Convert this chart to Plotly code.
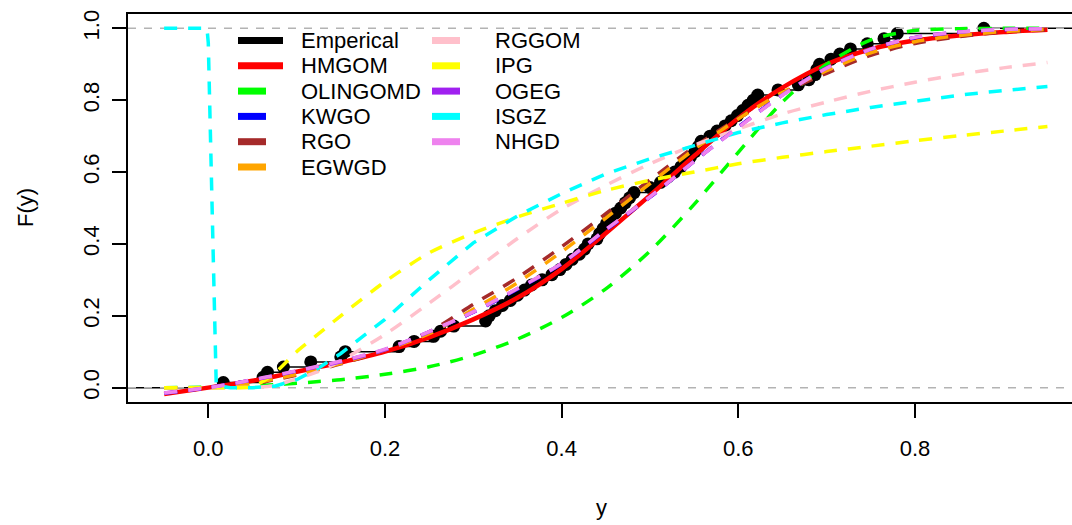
import plotly.graph_objects as go

# ---------------- data ----------------
# observed sample (empirical CDF points)
SAMPLE = [0.017, 0.062, 0.067, 0.085, 0.116, 0.150, 0.155, 0.216, 0.233, 0.255,
          0.263, 0.278, 0.314, 0.318, 0.325, 0.333, 0.342, 0.350, 0.358, 0.366,
          0.378, 0.389, 0.398, 0.405, 0.412, 0.420, 0.426, 0.430, 0.440, 0.443,
          0.447, 0.451, 0.455, 0.461, 0.467, 0.472, 0.477, 0.482, 0.500, 0.512,
          0.520, 0.528, 0.535, 0.540, 0.546, 0.551, 0.555, 0.558, 0.568, 0.576,
          0.585, 0.592, 0.599, 0.605, 0.611, 0.617, 0.622, 0.645, 0.668, 0.680,
          0.687, 0.689, 0.692, 0.705, 0.715, 0.727, 0.746, 0.765, 0.780, 0.878]

X_GRID = [-0.05, 0.0, 0.025, 0.05, 0.075, 0.1, 0.125, 0.15, 0.2, 0.25, 0.3, 0.35,
          0.4, 0.45, 0.5, 0.55, 0.6, 0.65, 0.7, 0.75, 0.8, 0.85, 0.9, 0.95]

HMGOM = [-0.018, 0.0, 0.009, 0.019, 0.031, 0.044, 0.057, 0.07, 0.10, 0.14, 0.19, 0.25,
         0.33, 0.43, 0.535, 0.645, 0.75, 0.835, 0.90, 0.942, 0.966, 0.98, 0.99, 0.996]
OLINGOMD = [0.0, 0.001, 0.003, 0.005, 0.008, 0.012, 0.017, 0.022, 0.037, 0.058, 0.09, 0.135,
            0.195, 0.275, 0.38, 0.51, 0.655, 0.795, 0.9, 0.968, 0.994, 0.999, 1.0, 1.0]
KWGO = [-0.016, 0.0, 0.01, 0.021, 0.033, 0.046, 0.059, 0.073, 0.106, 0.155, 0.21, 0.274,
        0.345, 0.438, 0.53, 0.63, 0.726, 0.815, 0.89, 0.942, 0.974, 0.989, 0.996, 0.999]
RGO = [0.0, 0.0, 0.002, 0.01, 0.022, 0.035, 0.05, 0.066, 0.105, 0.155, 0.232, 0.306,
       0.392, 0.484, 0.578, 0.67, 0.75, 0.82, 0.875, 0.925, 0.958, 0.977, 0.99, 0.996]
EGWGD = [0.0, 0.0, 0.003, 0.012, 0.024, 0.037, 0.052, 0.068, 0.105, 0.15, 0.218, 0.292,
         0.378, 0.472, 0.568, 0.663, 0.748, 0.822, 0.882, 0.932, 0.963, 0.98, 0.991, 0.997]
RGGOM = [0.0, 0.0, 0.0, 0.001, 0.006, 0.025, 0.045, 0.075, 0.148, 0.235, 0.325, 0.415,
         0.497, 0.563, 0.623, 0.675, 0.72, 0.762, 0.795, 0.825, 0.85, 0.872, 0.89, 0.905]
IPG = [0.0, 0.0, 0.0, 0.003, 0.04, 0.1, 0.15, 0.2, 0.295, 0.375, 0.43, 0.475,
       0.513, 0.549, 0.577, 0.60, 0.623, 0.641, 0.657, 0.672, 0.687, 0.701, 0.714, 0.727]
OGEG = [-0.015, 0.0, 0.01, 0.021, 0.033, 0.046, 0.058, 0.072, 0.105, 0.155, 0.21, 0.275,
        0.345, 0.44, 0.53, 0.63, 0.725, 0.815, 0.89, 0.942, 0.975, 0.99, 0.997, 0.999]
NHGD = [-0.015, 0.0, 0.01, 0.022, 0.034, 0.047, 0.06, 0.074, 0.107, 0.156, 0.211, 0.276,
        0.346, 0.44, 0.531, 0.63, 0.724, 0.814, 0.889, 0.942, 0.975, 0.99, 0.997, 0.999]

ISGZ_X = [-0.05, -0.0015, 0.0, 0.003, 0.006, 0.009, 0.025, 0.05, 0.075, 0.1, 0.125, 0.15,
          0.2, 0.25, 0.3, 0.35, 0.4, 0.45, 0.5, 0.55, 0.6, 0.65, 0.7, 0.75, 0.8, 0.85,
          0.9, 0.95]
ISGZ = [1.0, 1.0, 0.96, 0.64, 0.32, 0.006, 0.0, 0.0, 0.004, 0.022, 0.055, 0.095,
        0.19, 0.30, 0.403, 0.478, 0.54, 0.595, 0.637, 0.673, 0.71, 0.737, 0.76, 0.78,
        0.798, 0.814, 0.827, 0.838]

SERIES_NAMES = ["HMGOM", "OLINGOMD", "KWGO", "RGO", "EGWGD", "RGGOM", "IPG", "OGEG",
                "ISGZ", "NHGD"]
SERIES_COLORS = ["#FF0000", "#00FF00", "#0000FF", "#A52A2A", "#FFA500", "#FFC0CB",
                 "#FFFF00", "#A020F0", "#00FFFF", "#EE82EE"]
TICKS = [0.0, 0.2, 0.4, 0.6, 0.8]
TICK_TEXT = ["0.0", "0.2", "0.4", "0.6", "0.8"]
Y_TICKS = [0.0, 0.2, 0.4, 0.6, 0.8, 1.0]
Y_TICK_TEXT = ["0.0", "0.2", "0.4", "0.6", "0.8", "1.0"]

# ---------------- layout constants ----------------
W, H = 1072, 525
ML, MR, MT, MB = 128, 0, 14, 123
X_LO, X_HI = -0.0909, 0.9778
Y_LO, Y_HI = -0.04, 1.04
FONT = "Liberation Sans, Arial, Helvetica, sans-serif"
FS = 22

series_y = {"HMGOM": (X_GRID, HMGOM), "OLINGOMD": (X_GRID, OLINGOMD),
            "KWGO": (X_GRID, KWGO), "RGO": (X_GRID, RGO), "EGWGD": (X_GRID, EGWGD),
            "RGGOM": (X_GRID, RGGOM), "IPG": (X_GRID, IPG), "OGEG": (X_GRID, OGEG),
            "ISGZ": (ISGZ_X, ISGZ), "NHGD": (X_GRID, NHGD)}

fig = go.Figure()

# empirical CDF (step lines + points)
xs = sorted(SAMPLE)
n = len(xs)
F = [(i + 1) / n for i in range(n)]
fig.add_trace(go.Scatter(x=[X_LO] + xs + [X_HI], y=[0] + F + [1], mode="lines",
                         line=dict(color="black", width=1.5, shape="hv"),
                         showlegend=False, hoverinfo="skip"))
fig.add_trace(go.Scatter(x=xs, y=F, mode="markers",
                         marker=dict(color="black", size=13, line=dict(width=0)),
                         showlegend=False, name="Emperical"))
# 0 / 1 reference lines
for h in (0, 1):
    fig.add_trace(go.Scatter(x=[X_LO, X_HI], y=[h, h], mode="lines",
                             line=dict(color="#B3B3B3", width=1.5, dash="8px,8px"),
                             showlegend=False, hoverinfo="skip"))

# fitted CDFs
DASH = "13px,11px"
for name, col in zip(SERIES_NAMES, SERIES_COLORS):
    sx, sy = series_y[name]
    if name == "HMGOM":
        line = dict(color=col, width=4.5, shape="spline", smoothing=0.8)
    elif name == "ISGZ":
        line = dict(color=col, width=3.5, dash=DASH)
    else:
        line = dict(color=col, width=3.5, dash=DASH, shape="spline", smoothing=0.8)
    fig.add_trace(go.Scatter(x=sx, y=sy, mode="lines", line=line, name=name,
                             showlegend=False))

# ---------------- manual legend (R style, two columns) ----------------
pw = W - ML - MR
ph = H - MT - MB


def px2paper(px, py):
    return (px - ML) / pw, (H - MB - py) / ph


legend_names = ["Emperical"] + SERIES_NAMES
legend_colors = ["#000000"] + SERIES_COLORS
shapes = []
annotations = []
for i, (nm, col) in enumerate(zip(legend_names, legend_colors)):
    colidx = 0 if i < 6 else 1
    row = i if i < 6 else i - 6
    x0 = 238 if colidx == 0 else 432
    tx = 299 if colidx == 0 else 493
    yy = 40.5 + 25.3 * row
    solid = nm in ("Emperical", "HMGOM")
    ax0, ay = px2paper(x0, yy)
    ax1, _ = px2paper(x0 + 45, yy)
    shapes.append(dict(type="line", xref="paper", yref="paper", x0=ax0, x1=ax1,
                       y0=ay, y1=ay,
                       line=dict(color=col, width=7,
                                 dash="solid" if solid else "28px,30px")))
    tx_p, _ = px2paper(tx, yy)
    annotations.append(dict(text=nm, xref="paper", yref="paper", x=tx_p, y=ay,
                            xanchor="left", yanchor="middle", showarrow=False,
                            font=dict(family=FONT, size=FS, color="black")))

# axis titles
ax_x, ax_y = px2paper(601, 508)
annotations.append(dict(text="y", xref="paper", yref="paper", x=ax_x, y=ax_y,
                        xanchor="center", yanchor="middle", showarrow=False,
                        font=dict(family=FONT, size=FS, color="black")))
ay_x, ay_y = px2paper(25, 208)
annotations.append(dict(text="F(y)", xref="paper", yref="paper", x=ay_x, y=ay_y,
                        xanchor="center", yanchor="middle", showarrow=False,
                        textangle=-90,
                        font=dict(family=FONT, size=FS, color="black")))

fig.update_layout(
    width=W, height=H,
    margin=dict(l=ML, r=MR, t=MT, b=MB, pad=0),
    paper_bgcolor="white", plot_bgcolor="white",
    font=dict(family=FONT, size=FS, color="black"),
    showlegend=False,
    shapes=shapes, annotations=annotations,
    xaxis=dict(range=[X_LO, X_HI], tickvals=TICKS, ticktext=TICK_TEXT,
               ticks="outside", ticklen=14, tickwidth=1.5, tickcolor="black",
               showline=True, linecolor="black", linewidth=1.5, mirror=True,
               showgrid=False, zeroline=False, ticklabelstandoff=12,
               tickfont=dict(family=FONT, size=FS, color="black")),
    yaxis=dict(range=[Y_LO, Y_HI], tickvals=Y_TICKS, ticktext=Y_TICK_TEXT,
               ticks="outside", ticklen=14, tickwidth=1.5, tickcolor="black",
               showline=True, linecolor="black", linewidth=1.5, mirror=False,
               showgrid=False, zeroline=False, tickangle=-90, ticklabelstandoff=4,
               tickfont=dict(family=FONT, size=FS, color="black")),
)

fig.write_html("out.html")
